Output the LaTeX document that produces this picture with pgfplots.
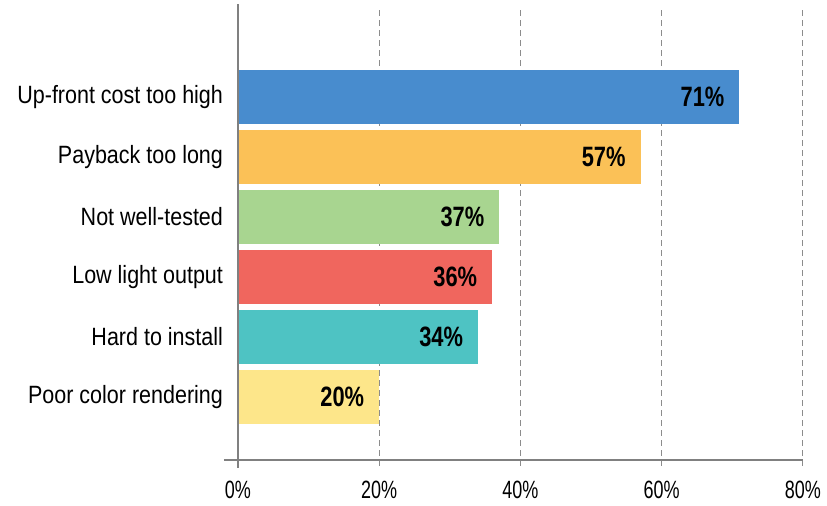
\documentclass[border=0pt]{standalone}
\usepackage{pgfplots}
\pgfplotsset{compat=1.18}
\usepackage{fontspec}
\setmainfont{Liberation Sans}
\newfontfamily\labfont{Liberation Sans}[FakeStretch=0.86]
\newfontfamily\tickfont{Liberation Sans}[FakeStretch=0.72]
\newfontfamily\valfont{Liberation Sans}[FakeStretch=0.78]
\definecolor{cblue}{RGB}{72,140,206}
\definecolor{corange}{RGB}{251,193,87}
\definecolor{cgreen}{RGB}{168,213,144}
\definecolor{cred}{RGB}{240,102,94}
\definecolor{cteal}{RGB}{78,195,195}
\definecolor{cyellow}{RGB}{253,230,138}
\definecolor{cgrid}{RGB}{140,140,140}
\begin{document}
\begin{tikzpicture}
\begin{axis}[
  at={(0,0)}, anchor=south west,
  scale only axis, width=282.5pt, height=225pt,
  xmin=0, xmax=80, ymin=-1.05, ymax=6.45,
  axis line style={draw=none},
  major tick length=0pt,
  xtick={0,20,40,60,80},
  xticklabel={\pgfmathprintnumber{\tick}\%},
  /pgf/number format/assume math mode=true,
  xticklabel style={font=\tickfont\fontsize{12.5}{14}\selectfont, yshift=-7pt},
  ytick={0,1,2,3,4,5},
  yticklabels={Poor color rendering,Hard to install,Low light output,Not well-tested,Payback too long,Up-front cost too high},
  yticklabel style={font=\labfont\fontsize{12.5}{14}\selectfont, xshift=-4pt},
  xbar, bar width=27pt, bar shift=0pt,
  point meta=x,
  nodes near coords={\pgfmathprintnumber{\pgfplotspointmeta}\%},
  every node near coord/.append style={anchor=east, xshift=-4pt, font=\valfont\bfseries\fontsize{14}{16}\selectfont, text=black},
  clip=false,
]
\draw[cgrid, densely dashed, line width=0.5pt] (axis cs:20,6.45) -- (axis cs:20,-1.2);
\draw[cgrid, densely dashed, line width=0.5pt] (axis cs:40,6.45) -- (axis cs:40,-1.2);
\draw[cgrid, densely dashed, line width=0.5pt] (axis cs:60,6.45) -- (axis cs:60,-1.2);
\draw[cgrid, densely dashed, line width=0.5pt] (axis cs:80,6.45) -- (axis cs:80,-1.2);
\addplot[draw=none, fill=cblue] coordinates {(71,5)};
\addplot[draw=none, fill=corange] coordinates {(57,4)};
\addplot[draw=none, fill=cgreen] coordinates {(37,3)};
\addplot[draw=none, fill=cred] coordinates {(36,2)};
\addplot[draw=none, fill=cteal] coordinates {(34,1)};
\addplot[draw=none, fill=cyellow] coordinates {(20,0)};
\draw[gray, line width=0.8pt] (axis cs:-2,-1.05) -- (axis cs:80,-1.05);
\draw[gray, line width=0.8pt] (axis cs:0,6.55) -- (axis cs:0,-1.18);
\end{axis}
\pgfresetboundingbox
\path[use as bounding box] (-119pt,-22.5pt) rectangle (294.5pt,230pt);
\end{tikzpicture}
\end{document}
